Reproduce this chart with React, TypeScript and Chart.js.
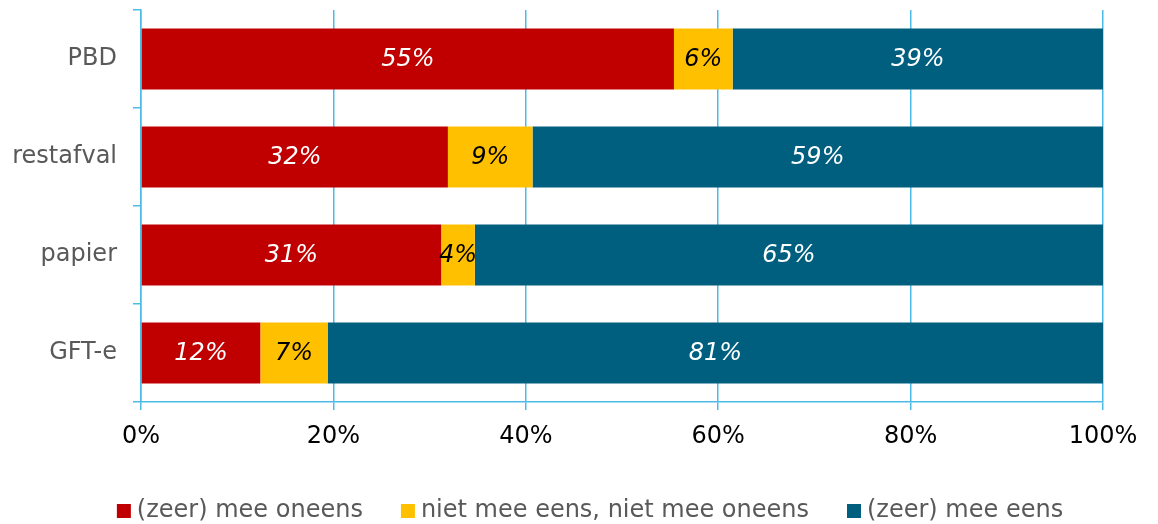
import React, { useEffect, useRef } from "react";
import { Chart, registerables } from "chart.js";

Chart.register(...registerables);

const categories = ["PBD", "restafval", "papier", "GFT-e"];
const seriesNames = ["(zeer) mee oneens", "niet mee eens, niet mee oneens", "(zeer) mee eens"];
const disagree = [55.4, 31.9, 31.2, 12.4];
const neutral = [6.1, 8.8, 3.5, 7.0];
const agree = [38.5, 59.3, 65.3, 80.6];
const xTicks = [0, 20, 40, 60, 80, 100];

const COLORS = ["#C00000", "#FFC000", "#005F7F"];
const LABEL_COLORS = ["#FFFFFF", "#000000", "#FFFFFF"];
const GRID = "#4CBCE6";
const FONT = "'DejaVu Sans', Verdana, sans-serif";

const valueLabels = {
  id: "valueLabels",
  afterDatasetsDraw(chart: any) {
    const ctx = chart.ctx;
    ctx.save();
    ctx.font = `italic 24px ${FONT}`;
    ctx.textAlign = "center";
    ctx.textBaseline = "middle";
    chart.data.datasets.forEach((ds: any, di: number) => {
      const meta = chart.getDatasetMeta(di);
      meta.data.forEach((bar: any, i: number) => {
        const v = ds.data[i];
        const cx = (bar.x + bar.base) / 2;
        ctx.fillStyle = LABEL_COLORS[di];
        ctx.fillText(`${Math.round(v)}%`, cx, bar.y + 1);
      });
    });
    ctx.restore();
  },
};

const customLegend = {
  id: "customLegend",
  afterDraw(chart: any) {
    const ctx = chart.ctx;
    ctx.save();
    ctx.font = `24px ${FONT}`;
    ctx.textBaseline = "middle";
    ctx.textAlign = "left";
    const box = 14;
    const gapBoxText = 6;
    const gapItems = 38;
    const items = chart.data.datasets.map((ds: any) => ({
      text: ds.label,
      color: ds.backgroundColor,
      w: ctx.measureText(ds.label).width,
    }));
    const total = items.reduce((s: number, it: any) => s + box + gapBoxText + it.w, 0) + gapItems * (items.length - 1);
    let x = 590 - total / 2;
    const y = 511;
    items.forEach((it: any) => {
      ctx.fillStyle = it.color;
      ctx.fillRect(x, y - box / 2, box, box);
      x += box + gapBoxText;
      ctx.fillStyle = "#595959";
      ctx.fillText(it.text, x, y);
      x += it.w + gapItems;
    });
    ctx.restore();
  },
};

export default function App() {
  const ref = useRef<HTMLCanvasElement>(null);
  useEffect(() => {
    const chart = new Chart(ref.current!, {
      type: "bar",
      data: {
        labels: categories,
        datasets: [
          { label: seriesNames[0], data: disagree, backgroundColor: COLORS[0] },
          { label: seriesNames[1], data: neutral, backgroundColor: COLORS[1] },
          { label: seriesNames[2], data: agree, backgroundColor: COLORS[2] },
        ],
      },
      options: {
        indexAxis: "y",
        animation: false,
        responsive: true,
        maintainAspectRatio: false,
        layout: { padding: { top: 10, right: 55, bottom: 60, left: 0 } },
        datasets: {
          bar: { categoryPercentage: 1, barPercentage: 0.62, borderWidth: 0 },
        },
        plugins: {
          legend: { display: false },
          tooltip: { enabled: false },
        },
        scales: {
          x: {
            stacked: true,
            min: 0,
            max: 100,
            afterBuildTicks: (axis: any) => {
              axis.ticks = xTicks.map((v) => ({ value: v }));
            },
            afterFit: (axis: any) => {
              axis.height = 62;
              axis.paddingLeft = 0;
              axis.paddingRight = 0;
            },
            ticks: {
              callback: (v: any) => `${v}%`,
              color: "#000000",
              font: { family: FONT, size: 24 },
              padding: 12,
              maxRotation: 0,
            },
            grid: { color: GRID, lineWidth: 1.5, drawTicks: true, tickLength: 8 },
            border: { color: GRID, width: 1.5 },
          },
          y: {
            stacked: true,
            afterFit: (axis: any) => {
              axis.width = 141;
              axis.paddingTop = 0;
              axis.paddingBottom = 0;
            },
            ticks: {
              color: "#595959",
              font: { family: FONT, size: 24 },
              padding: 16,
            },
            grid: { color: GRID, lineWidth: 1.5, drawOnChartArea: false, drawTicks: true, tickLength: 8, offset: true },
            border: { color: GRID, width: 1.5 },
          },
        },
      },
      plugins: [valueLabels, customLegend],
    } as any);
    return () => chart.destroy();
  }, []);
  return (
    <div style={{ position: "fixed", left: 0, top: 0, width: 1158, height: 524, background: "#fff" }}>
      <canvas ref={ref} />
    </div>
  );
}
